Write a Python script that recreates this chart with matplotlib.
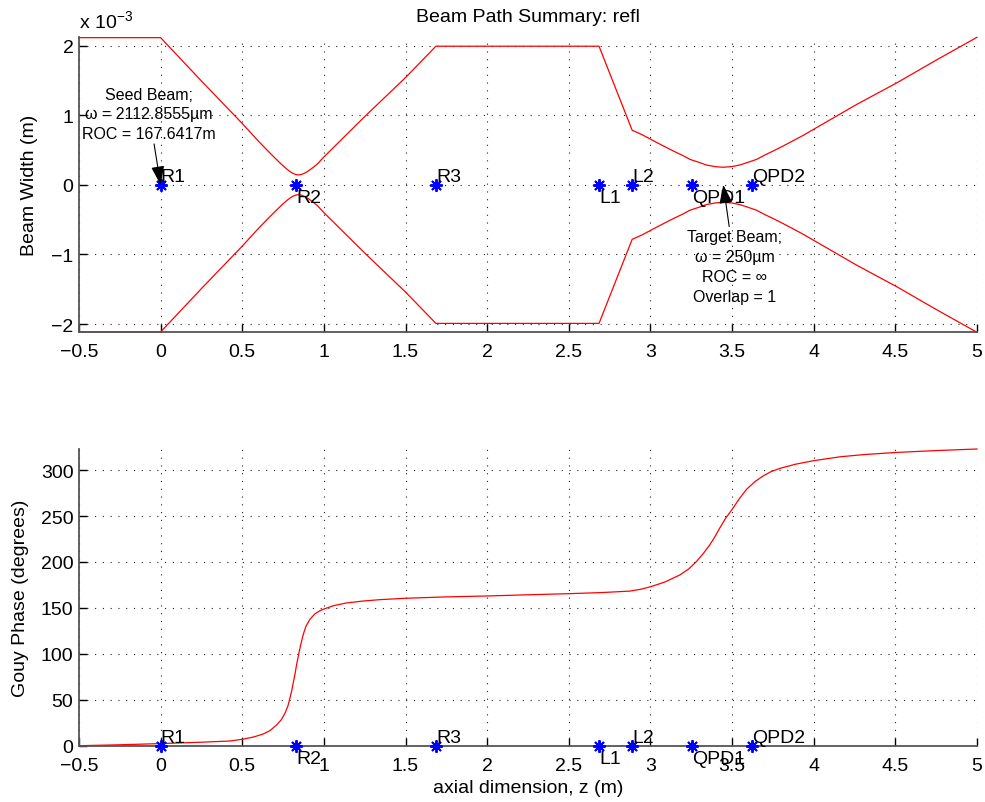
import matplotlib
matplotlib.use('Agg')
import matplotlib.pyplot as plt
from matplotlib.ticker import FuncFormatter, MultipleLocator

plt.rcParams['font.family'] = ['Liberation Sans', 'DejaVu Sans']
plt.rcParams['mathtext.fontset'] = 'custom'
plt.rcParams['mathtext.rm'] = 'Liberation Sans'
plt.rcParams['axes.unicode_minus'] = True

# beam radius along the path (z in m, w in units of 1e-3 m)
z_width = [-0.5, 0.0, 0.25, 0.5, 0.60, 0.65, 0.70, 0.74, 0.77, 0.79, 0.81, 0.83,
           0.843, 0.86, 0.88, 0.90, 0.93, 0.96, 1.0, 1.25, 1.5, 1.686, 2.685,
           2.888, 2.95, 3.038, 3.10, 3.15, 3.20, 3.242, 3.30, 3.344, 3.40, 3.446,
           3.50, 3.548, 3.60, 3.65, 3.70, 3.75, 3.80, 3.854, 3.93, 4.018, 4.263,
           4.508, 4.75, 5.0]
w_mm = [2.113, 2.113, 1.49, 0.88, 0.624, 0.503, 0.385, 0.294, 0.231, 0.194, 0.164, 0.146,
        0.142, 0.147, 0.165, 0.191, 0.242, 0.299, 0.40, 0.98, 1.54, 1.99, 1.99,
        0.783, 0.718, 0.608, 0.533, 0.474, 0.418, 0.365, 0.32, 0.283, 0.26, 0.252,
        0.262, 0.285, 0.325, 0.365, 0.427, 0.483, 0.542, 0.608, 0.703, 0.822, 1.154,
        1.463, 1.79, 2.118]

# accumulated Gouy phase (degrees)
z_gouy = [-0.5, -0.25, 0.0, 0.25, 0.425, 0.5, 0.57, 0.629, 0.67, 0.711, 0.74, 0.762,
          0.78, 0.792, 0.803, 0.812, 0.823, 0.833, 0.844, 0.854, 0.864, 0.874, 0.89,
          0.915, 0.945, 0.976, 1.0, 1.06, 1.139, 1.24, 1.344, 1.5, 1.75, 2.0, 2.25,
          2.5, 2.7, 2.874, 2.94, 3.0, 3.09, 3.18, 3.235, 3.282, 3.325, 3.364, 3.395,
          3.425, 3.46, 3.5, 3.545, 3.589, 3.64, 3.691, 3.74, 3.793, 3.89, 4.0,
          4.161, 4.3, 4.5, 4.75, 5.0]
gouy = [0, 1.0, 2.3, 3.8, 5.1, 7.0, 9.5, 12.8, 16.5, 22.7, 28.5, 35.5,
        43.5, 52, 60, 68.4, 78, 88.5, 98, 106.8, 114.5, 121.4, 130,
        137.8, 143.5, 147, 148.8, 152.5, 155.4, 157.5, 159, 160.5, 162, 163, 164.3,
        165.5, 166.7, 168.3, 170.3, 173, 178.3, 185.9, 192.5, 200.5, 209.5, 218.8, 227.5,
        237.1, 247.5, 257.2, 269, 279.2, 287.5, 293.8, 298.5, 301.9, 306.5, 310.3,
        314.5, 316.8, 319.2, 321.3, 323]

# optics along the path
comp_names = ['R1', 'R2', 'R3', 'L1', 'L2', 'QPD1', 'QPD2']
comp_z = [0.0, 0.829, 1.686, 2.685, 2.889, 3.256, 3.623]

seed_text = 'Seed Beam;\nω = 2112.8555µm\nROC = 167.6417m'
target_text = 'Target Beam;\nω = 250µm\nROC = ∞\nOverlap = 1'
target_z = 3.446

fmt = FuncFormatter(lambda v, p: ('%g' % v).replace('-', '\u2212'))


def style_axes(ax):
    ax.spines['top'].set_visible(False)
    ax.spines['right'].set_visible(False)
    for s in ['left', 'bottom']:
        ax.spines[s].set_color('#555555')
        ax.spines[s].set_linewidth(1.3)
    ax.set_xlim(-0.5, 5)
    ax.xaxis.set_major_locator(MultipleLocator(0.5))
    ax.xaxis.set_major_formatter(fmt)
    ax.yaxis.set_major_formatter(fmt)
    ax.tick_params(direction='in', length=5.5, width=1, labelsize=14, colors='black')
    ax.tick_params(axis='x', pad=8)
    ax.tick_params(axis='y', pad=4)
    ax.grid(True, color='#222222', linestyle=(0, (1, 6)), linewidth=0.8)
    ax.set_axisbelow(True)


def mark_components(ax):
    ax.plot(comp_z, [0] * len(comp_z), linestyle='none', marker=(8, 2, 0),
            markersize=9, markeredgewidth=1.4, color='blue', clip_on=False, zorder=5)
    for i, (name, z) in enumerate(zip(comp_names, comp_z)):
        if i % 2 == 0:
            ax.annotate(name, (z, 0), xytext=(0, 3), textcoords='offset points',
                        ha='left', va='baseline', fontsize=14, zorder=6)
        else:
            ax.annotate(name, (z, 0), xytext=(0, -3), textcoords='offset points',
                        ha='left', va='top', fontsize=14, zorder=6)


fig = plt.figure(figsize=(9.85, 8.03), dpi=100)
ax1 = fig.add_axes([79 / 985, 1 - 333.3 / 803, 898 / 985, 295 / 803])
ax2 = fig.add_axes([79 / 985, 1 - 746.7 / 803, 898 / 985, 296.7 / 803])

# top: beam width
style_axes(ax1)
wmax = max(w_mm)
ax1.plot(z_width, w_mm, color='red', linewidth=0.9, clip_on=False)
ax1.plot(z_width, [-w for w in w_mm], color='red', linewidth=0.9, clip_on=False)
ax1.set_ylim(-wmax, wmax)
ax1.yaxis.set_major_locator(MultipleLocator(1))
mark_components(ax1)
ax1.set_ylabel('Beam Width (m)', fontsize=14)
ax1.yaxis.set_label_coords(-0.0453, 0.5)
ax1.set_title('Beam Path Summary: refl', fontsize=14, pad=12)
fig.text(79 / 985, 1 - 28.3 / 803, r'x $\mathregular{10^{-3}}$', fontsize=14,
         va='baseline', ha='left')

arrow = dict(arrowstyle='-|>,head_length=1.0,head_width=0.35', color='black',
             lw=0.8, shrinkA=0, shrinkB=0)
ax1.annotate(seed_text, xy=(0, 0), xytext=(-0.07, 0.627), ha='center', va='bottom',
             multialignment='center', fontsize=11.5, linespacing=1.4,
             arrowprops=arrow, zorder=7)
ax1.annotate(target_text, xy=(target_z, 0), xytext=(3.517, -0.64), ha='center',
             va='top', multialignment='center', fontsize=11.5, linespacing=1.4,
             arrowprops=arrow, zorder=7)

# bottom: Gouy phase
style_axes(ax2)
ax2.plot(z_gouy, gouy, color='red', linewidth=0.9, clip_on=False)
ax2.set_ylim(0, max(gouy))
ax2.yaxis.set_major_locator(MultipleLocator(50))
mark_components(ax2)
ax2.set_ylabel('Gouy Phase (degrees)', fontsize=14)
ax2.yaxis.set_label_coords(-0.0553, 0.5)
ax2.set_xlabel('axial dimension, z (m)', fontsize=14, labelpad=4)

fig.savefig('out.png', dpi=100)
